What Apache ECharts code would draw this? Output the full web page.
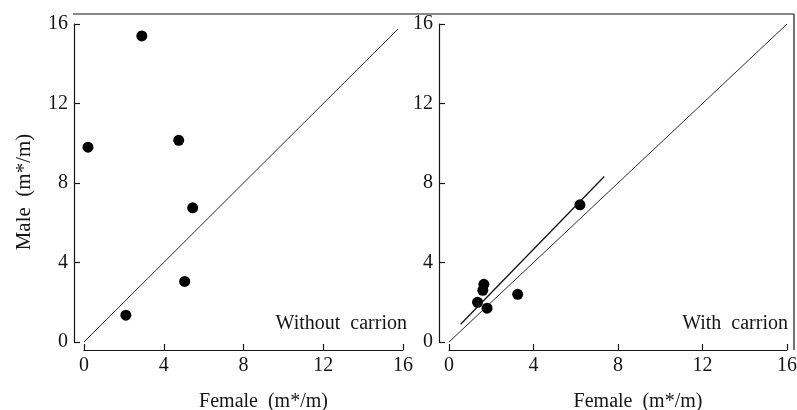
<!DOCTYPE html>
<html>
<head>
<meta charset="utf-8">
<script src="https://cdn.jsdelivr.net/npm/echarts@6/dist/echarts.min.js"></script>
<style>
  html, body { margin: 0; padding: 0; background: #fff; }
  #chart { width: 797px; height: 410px; }
</style>
</head>
<body>
<div id="chart"></div>
<script>
// values (m*/m)
const leftFemale = [2.9, 0.2, 4.75, 5.45, 5.05, 2.1];
const leftMale = [15.4, 9.8, 10.15, 6.75, 3.05, 1.35];
const rightFemale = [6.2, 1.65, 1.6, 1.35, 1.8, 3.25];
const rightMale = [6.9, 2.9, 2.6, 2.0, 1.7, 2.4];

// 1:1 reference lines and fitted line (with carrion)
const identityLeft = [0, 15.75];
const identityRight = [0, 16];
const fitX = [0.55, 7.35];
const fitY = [0.89, 8.33];

const axisTicks = [0, 4, 8, 12, 16];
const panelLabels = ['Without  carrion', 'With  carrion'];
const xName = 'Female  (m*/m)';
const yName = 'Male  (m*/m)';

const font = 'Liberation Serif';
const ink = '#151515';

const pairs = (xs, ys) => xs.map((x, i) => [x, ys[i]]);

const baseAxis = {
  type: 'value',
  min: axisTicks[0],
  max: axisTicks[axisTicks.length - 1],
  interval: axisTicks[1] - axisTicks[0],
  splitLine: { show: false },
  axisLine: { onZero: false, lineStyle: { color: ink, width: 1.2 } },
  axisTick: { inside: true, length: 6, lineStyle: { color: ink, width: 1.2 } },
  axisLabel: { color: ink, fontFamily: font, fontSize: 20 },
}

const chart = echarts.init(document.getElementById('chart'))

chart.setOption({
  animation: false,
  grid: [
    { left: 84, top: 24, width: 319, height: 318, outerBoundsMode: 'none', containLabel: false },
    { left: 449, top: 24, width: 338, height: 318, outerBoundsMode: 'none', containLabel: false },
  ],
  xAxis: [0, 1].map(i => ({
    ...baseAxis,
    gridIndex: i,
    position: 'bottom',
    offset: 8,
    axisLabel: { ...baseAxis.axisLabel, margin: 6 },
    name: xName,
    nameLocation: 'middle',
    nameGap: 42,
    nameTextStyle: { color: ink, fontFamily: font, fontSize: 20, padding: [0, 0, 0, 40] },
  })),
  yAxis: [0, 1].map(i => ({
    ...baseAxis,
    gridIndex: i,
    position: 'left',
    offset: 10,
    axisLabel: { ...baseAxis.axisLabel, margin: 6 },
    name: i === 0 ? yName : '',
    nameLocation: 'middle',
    nameGap: 39,
    nameTextStyle: { color: ink, fontFamily: font, fontSize: 21, padding: [0, 18, 0, 0] },
  })),
  title: [
    { text: panelLabels[0], right: 390, top: 314, padding: 0,
      textStyle: { color: ink, fontFamily: font, fontSize: 20, fontWeight: 'normal' } },
    { text: panelLabels[1], right: 9, top: 314, padding: 0,
      textStyle: { color: ink, fontFamily: font, fontSize: 20, fontWeight: 'normal' } },
  ],
  graphic: [
    // frame lines of the printed figure
    { type: 'line', shape: { x1: 73, y1: 14, x2: 794, y2: 14 }, style: { stroke: ink, lineWidth: 1.2 } },
    { type: 'line', shape: { x1: 794, y1: 14, x2: 794, y2: 350 }, style: { stroke: ink, lineWidth: 1.2 } },
  ],
  series: [
    {
      type: 'line', xAxisIndex: 0, yAxisIndex: 0,
      data: pairs(identityLeft, identityLeft), symbol: 'none',
      lineStyle: { color: ink, width: 0.9 },
    },
    {
      type: 'scatter', xAxisIndex: 0, yAxisIndex: 0,
      data: pairs(leftFemale, leftMale), symbolSize: 11,
      itemStyle: { color: '#000', opacity: 1 },
    },
    {
      type: 'line', xAxisIndex: 1, yAxisIndex: 1,
      data: pairs(identityRight, identityRight), symbol: 'none',
      lineStyle: { color: ink, width: 0.9 },
    },
    {
      type: 'line', xAxisIndex: 1, yAxisIndex: 1,
      data: pairs(fitX, fitY), symbol: 'none',
      lineStyle: { color: ink, width: 1.3 },
    },
    {
      type: 'scatter', xAxisIndex: 1, yAxisIndex: 1,
      data: pairs(rightFemale, rightMale), symbolSize: 11,
      itemStyle: { color: '#000', opacity: 1 },
    },
  ],
})
</script>
</body>
</html>
